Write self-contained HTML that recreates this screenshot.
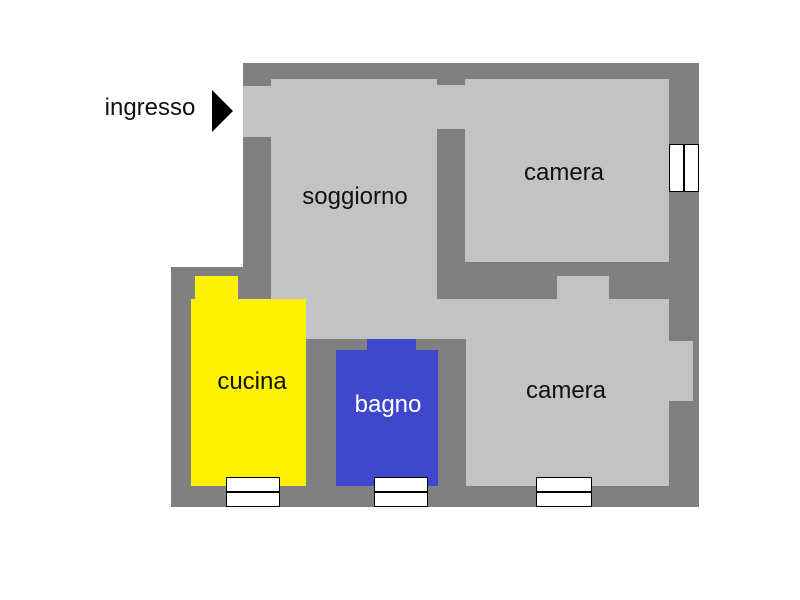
<!DOCTYPE html>
<html><head><style>
body{margin:0;width:800px;height:600px;background:#fff;position:relative;overflow:hidden;font-family:"Liberation Sans",sans-serif}
div{position:absolute}
.d{background:#808080}.l{background:#c3c3c3}.y{background:#fff200}.b{background:#3f48cc}
.w{background:#fff;border:1px solid #000;box-sizing:border-box}
.t{font-size:24px;color:#111;white-space:nowrap;transform:translate(-50%,-50%)}
</style></head><body>
<div class="d" style="left:243px;top:63px;width:456px;height:444px"></div>
<div class="d" style="left:171px;top:267px;width:80px;height:240px"></div>
<div class="l" style="left:271px;top:79px;width:166px;height:220px"></div>
<div class="l" style="left:243px;top:86px;width:30px;height:51px"></div>
<div class="l" style="left:437px;top:85px;width:30px;height:44px"></div>
<div class="l" style="left:306px;top:299px;width:160px;height:40px"></div>
<div class="l" style="left:271px;top:290px;width:40px;height:20px"></div>
<div class="l" style="left:465px;top:79px;width:204px;height:183px"></div>
<div class="l" style="left:557px;top:276px;width:52px;height:30px"></div>
<div class="l" style="left:466px;top:299px;width:203px;height:187px"></div>
<div class="l" style="left:660px;top:341px;width:33px;height:60px"></div>
<div class="y" style="left:195px;top:276px;width:43px;height:30px"></div>
<div class="y" style="left:191px;top:299px;width:115px;height:187px"></div>
<div class="b" style="left:367px;top:339px;width:49px;height:20px"></div>
<div class="b" style="left:336px;top:350px;width:102px;height:136px"></div>
<div class="w" style="left:669px;top:144px;width:30px;height:48px"></div>
<div style="left:683px;top:144px;width:2px;height:48px;background:#000"></div>
<div class="w" style="left:226px;top:477px;width:54px;height:30px"></div>
<div style="left:226px;top:491px;width:54px;height:2px;background:#000"></div>
<div class="w" style="left:374px;top:477px;width:54px;height:30px"></div>
<div style="left:374px;top:491px;width:54px;height:2px;background:#000"></div>
<div class="w" style="left:536px;top:477px;width:56px;height:30px"></div>
<div style="left:536px;top:491px;width:56px;height:2px;background:#000"></div>
<svg style="position:absolute;left:0;top:0" width="800" height="600"><polygon points="212,90 233,111 212,132" fill="#000"/></svg>
<div class="t" style="left:150px;top:108px">ingresso</div>
<div class="t" style="left:355px;top:197px">soggiorno</div>
<div class="t" style="left:564px;top:173px">camera</div>
<div class="t" style="left:252px;top:382px">cucina</div>
<div class="t" style="left:388px;top:405px;color:#fff">bagno</div>
<div class="t" style="left:566px;top:391px">camera</div>
</body></html>
